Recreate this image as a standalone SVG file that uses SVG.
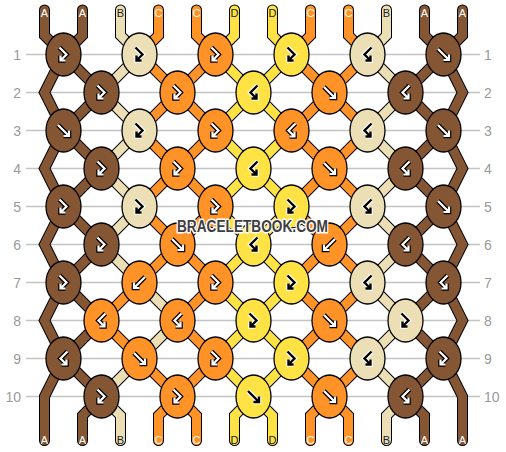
<svg xmlns="http://www.w3.org/2000/svg" xmlns:xlink="http://www.w3.org/1999/xlink" width="506" height="452" viewBox="0 0 506 452">
<style>
.grid line{stroke:#c4c4c4;stroke-width:1.3}
.num{font-family:"Liberation Sans",Arial,sans-serif;font-size:14px;fill:#9a9a9a}
.ol{fill:none;stroke:#000;stroke-width:11;stroke-linecap:round;stroke-linejoin:miter}
.sA{fill:none;stroke:#855634;stroke-width:9;stroke-linecap:round;stroke-linejoin:miter}
.sB{fill:none;stroke:#ecdfb6;stroke-width:9;stroke-linecap:round;stroke-linejoin:miter}
.sC{fill:none;stroke:#ff9327;stroke-width:9;stroke-linecap:round;stroke-linejoin:miter}
.sD{fill:none;stroke:#ffe344;stroke-width:9;stroke-linecap:round;stroke-linejoin:miter}
ellipse{stroke:#000;stroke-width:1.3}
.A{fill:#855634}.B{fill:#ecdfb6}.C{fill:#ff9327}.D{fill:#ffe344}
.lab{font-family:"Liberation Sans",Arial,sans-serif;font-size:11px;text-anchor:middle}
.lw{fill:#fff}.lk{fill:#222}
.wm{font-family:"Liberation Sans",Arial,sans-serif;font-weight:bold;font-size:16px;fill:#3e3e3e;stroke:#fff;stroke-width:3;paint-order:stroke;stroke-linejoin:round;text-anchor:middle}
</style>
<defs>
<path id="pF" d="M-5.5,-5.5 L5.5,5.5 M0,5.5 L5.5,5.5 L5.5,0"/>
<path id="pB" d="M5.5,-5.5 L-5.5,5.5 M0,5.5 L-5.5,5.5 L-5.5,0"/>
<path id="pFB" d="M-4,-7 L3,0 L-3,6 M-3,1 L-3,6 L2,6"/>
<path id="pBF" d="M4,-7 L-3,0 L3,6 M3,1 L3,6 L-2,6"/>
<g id="Fw"><use xlink:href="#pF" fill="none" stroke="#000" stroke-width="4.6"/><use xlink:href="#pF" fill="none" stroke="#fff" stroke-width="2.2"/></g>
<g id="Bw"><use xlink:href="#pB" fill="none" stroke="#000" stroke-width="4.6"/><use xlink:href="#pB" fill="none" stroke="#fff" stroke-width="2.2"/></g>
<g id="FBw"><use xlink:href="#pFB" fill="none" stroke="#000" stroke-width="4.6"/><use xlink:href="#pFB" fill="none" stroke="#fff" stroke-width="2.2"/></g>
<g id="BFw"><use xlink:href="#pBF" fill="none" stroke="#000" stroke-width="4.6"/><use xlink:href="#pBF" fill="none" stroke="#fff" stroke-width="2.2"/></g>
<g id="Fk"><use xlink:href="#pF" fill="none" stroke="#fff" stroke-width="4.6"/><use xlink:href="#pF" fill="none" stroke="#000" stroke-width="2.4"/></g>
<g id="FBk"><use xlink:href="#pFB" fill="none" stroke="#fff" stroke-width="4.6"/><use xlink:href="#pFB" fill="none" stroke="#000" stroke-width="2.4"/></g>
<g id="BFk"><use xlink:href="#pBF" fill="none" stroke="#fff" stroke-width="4.6"/><use xlink:href="#pBF" fill="none" stroke="#000" stroke-width="2.4"/></g>
<path id="strA" d="M44.5,10 V35.5 L63.5,54.5 L44.5,92.5 L63.5,130.5 L44.5,168.5 L63.5,206.5 L44.5,244.5 L63.5,282.5 L44.5,320.5 L63.5,358.5 L44.5,396.5 V440.5
 M82.5,10 V35.5 L63.5,54.5 L101.5,92.5 L63.5,130.5 L101.5,168.5 L63.5,206.5 L101.5,244.5 L63.5,282.5 L101.5,320.5 L63.5,358.5 L101.5,396.5 L82.5,415.5 V440.5
 M424.5,10 V35.5 L443.5,54.5 L405.5,92.5 L443.5,130.5 L405.5,168.5 L443.5,206.5 L405.5,244.5 L443.5,282.5 L405.5,320.5 L443.5,358.5 L405.5,396.5 L424.5,415.5 V440.5
 M462.5,10 V35.5 L443.5,54.5 L462.5,92.5 L443.5,130.5 L462.5,168.5 L443.5,206.5 L462.5,244.5 L443.5,282.5 L462.5,320.5 L443.5,358.5 L462.5,396.5 V440.5"/>
<path id="strB" d="M120.5,10 V35.5 L139.5,54.5 L101.5,92.5 L139.5,130.5 L101.5,168.5 L139.5,206.5 L101.5,244.5 L139.5,282.5
 M139.5,358.5 L101.5,396.5 L120.5,415.5 V440.5
 M139.5,282.5 L177.5,320.5 L139.5,358.5
 M386.5,10 V35.5 L367.5,54.5 L405.5,92.5 L367.5,130.5 L405.5,168.5 L367.5,206.5 L405.5,244.5 L367.5,282.5 L405.5,320.5 L367.5,358.5 L405.5,396.5 L386.5,415.5 V440.5"/>
<path id="strC" d="M158.5,10 V35.5 L139.5,54.5 L177.5,92.5 L139.5,130.5 L177.5,168.5 L139.5,206.5 L177.5,244.5 L139.5,282.5
 M139.5,358.5 L177.5,396.5 L158.5,415.5 V440.5
 M139.5,282.5 L101.5,320.5 L139.5,358.5
 M196.5,10 V35.5 L215.5,54.5 L177.5,92.5 L215.5,130.5 L177.5,168.5 L215.5,206.5 L177.5,244.5 L215.5,282.5 L177.5,320.5 L215.5,358.5 L177.5,396.5 L196.5,415.5 V440.5
 M310.5,10 V35.5 L291.5,54.5 L329.5,92.5 L291.5,130.5 L329.5,168.5 L291.5,206.5 L329.5,244.5 L291.5,282.5 L329.5,320.5 L291.5,358.5 L329.5,396.5 L310.5,415.5 V440.5
 M348.5,10 V35.5 L367.5,54.5 L329.5,92.5 L367.5,130.5 L329.5,168.5 L367.5,206.5 L329.5,244.5 L367.5,282.5 L329.5,320.5 L367.5,358.5 L329.5,396.5 L348.5,415.5 V440.5"/>
<path id="strD" d="M234.5,10 V35.5 L215.5,54.5 L253.5,92.5 L215.5,130.5 L253.5,168.5 L215.5,206.5 L253.5,244.5 L215.5,282.5 L253.5,320.5 L215.5,358.5 L253.5,396.5 L234.5,415.5 V440.5
 M272.5,10 V35.5 L291.5,54.5 L253.5,92.5 L291.5,130.5 L253.5,168.5 L291.5,206.5 L253.5,244.5 L291.5,282.5 L253.5,320.5 L291.5,358.5 L253.5,396.5 L272.5,415.5 V440.5"/>
</defs>
<rect width="506" height="452" fill="#fff"/>
<g class="grid">
<line x1="26" y1="54.5" x2="480" y2="54.5"/><line x1="26" y1="92.5" x2="480" y2="92.5"/><line x1="26" y1="130.5" x2="480" y2="130.5"/><line x1="26" y1="168.5" x2="480" y2="168.5"/><line x1="26" y1="206.5" x2="480" y2="206.5"/><line x1="26" y1="244.5" x2="480" y2="244.5"/><line x1="26" y1="282.5" x2="480" y2="282.5"/><line x1="26" y1="320.5" x2="480" y2="320.5"/><line x1="26" y1="358.5" x2="480" y2="358.5"/><line x1="26" y1="396.5" x2="480" y2="396.5"/>
</g>
<g class="num" text-anchor="end">
<text x="21" y="59.5">1</text><text x="21" y="97.5">2</text><text x="21" y="135.5">3</text><text x="21" y="173.5">4</text><text x="21" y="211.5">5</text><text x="21" y="249.5">6</text><text x="21" y="287.5">7</text><text x="21" y="325.5">8</text><text x="21" y="363.5">9</text><text x="21" y="401.5">10</text>
</g>
<g class="num" text-anchor="start">
<text x="484" y="59.5">1</text><text x="484" y="97.5">2</text><text x="484" y="135.5">3</text><text x="484" y="173.5">4</text><text x="484" y="211.5">5</text><text x="484" y="249.5">6</text><text x="484" y="287.5">7</text><text x="484" y="325.5">8</text><text x="484" y="363.5">9</text><text x="484" y="401.5">10</text>
</g>
<g id="connectors">
<use xlink:href="#strA" class="ol"/><use xlink:href="#strB" class="ol"/><use xlink:href="#strC" class="ol"/><use xlink:href="#strD" class="ol"/>
<use xlink:href="#strA" class="sA"/><use xlink:href="#strB" class="sB"/><use xlink:href="#strC" class="sC"/><use xlink:href="#strD" class="sD"/>
</g>
<g id="labels-top">
<text class="lab lw" x="44.5" y="16.5">A</text><text class="lab lw" x="82.5" y="16.5">A</text><text class="lab lk" x="120.5" y="16.5">B</text><text class="lab lw" x="158.5" y="16.5">C</text><text class="lab lw" x="196.5" y="16.5">C</text><text class="lab lk" x="234.5" y="16.5">D</text><text class="lab lk" x="272.5" y="16.5">D</text><text class="lab lw" x="310.5" y="16.5">C</text><text class="lab lw" x="348.5" y="16.5">C</text><text class="lab lk" x="386.5" y="16.5">B</text><text class="lab lw" x="424.5" y="16.5">A</text><text class="lab lw" x="462.5" y="16.5">A</text>
</g>
<g id="labels-bottom">
<text class="lab lw" x="44.5" y="444">A</text><text class="lab lw" x="82.5" y="444">A</text><text class="lab lk" x="120.5" y="444">B</text><text class="lab lw" x="158.5" y="444">C</text><text class="lab lw" x="196.5" y="444">C</text><text class="lab lk" x="234.5" y="444">D</text><text class="lab lk" x="272.5" y="444">D</text><text class="lab lw" x="310.5" y="444">C</text><text class="lab lw" x="348.5" y="444">C</text><text class="lab lk" x="386.5" y="444">B</text><text class="lab lw" x="424.5" y="444">A</text><text class="lab lw" x="462.5" y="444">A</text>
</g>
<g id="knots">
<g id="k1-1" transform="translate(63.5,54.5)"><ellipse class="A" rx="17.5" ry="21.5"/><use xlink:href="#FBw"/></g>
<g id="k1-2" transform="translate(139.5,54.5)"><ellipse class="B" rx="17.5" ry="21.5"/><use xlink:href="#FBk"/></g>
<g id="k1-3" transform="translate(215.5,54.5)"><ellipse class="C" rx="17.5" ry="21.5"/><use xlink:href="#FBw"/></g>
<g id="k1-4" transform="translate(291.5,54.5)"><ellipse class="D" rx="17.5" ry="21.5"/><use xlink:href="#FBk"/></g>
<g id="k1-5" transform="translate(367.5,54.5)"><ellipse class="B" rx="17.5" ry="21.5"/><use xlink:href="#BFk"/></g>
<g id="k1-6" transform="translate(443.5,54.5)"><ellipse class="A" rx="17.5" ry="21.5"/><use xlink:href="#Fw"/></g>

<g id="k2-1" transform="translate(101.5,92.5)"><ellipse class="A" rx="17.5" ry="21.5"/><use xlink:href="#FBw"/></g>
<g id="k2-2" transform="translate(177.5,92.5)"><ellipse class="C" rx="17.5" ry="21.5"/><use xlink:href="#FBw"/></g>
<g id="k2-3" transform="translate(253.5,92.5)"><ellipse class="D" rx="17.5" ry="21.5"/><use xlink:href="#BFk"/></g>
<g id="k2-4" transform="translate(329.5,92.5)"><ellipse class="C" rx="17.5" ry="21.5"/><use xlink:href="#Fw"/></g>
<g id="k2-5" transform="translate(405.5,92.5)"><ellipse class="A" rx="17.5" ry="21.5"/><use xlink:href="#BFw"/></g>

<g id="k3-1" transform="translate(63.5,130.5)"><ellipse class="A" rx="17.5" ry="21.5"/><use xlink:href="#Fw"/></g>
<g id="k3-2" transform="translate(139.5,130.5)"><ellipse class="B" rx="17.5" ry="21.5"/><use xlink:href="#FBk"/></g>
<g id="k3-3" transform="translate(215.5,130.5)"><ellipse class="C" rx="17.5" ry="21.5"/><use xlink:href="#FBw"/></g>
<g id="k3-4" transform="translate(291.5,130.5)"><ellipse class="C" rx="17.5" ry="21.5"/><use xlink:href="#BFw"/></g>
<g id="k3-5" transform="translate(367.5,130.5)"><ellipse class="B" rx="17.5" ry="21.5"/><use xlink:href="#BFk"/></g>
<g id="k3-6" transform="translate(443.5,130.5)"><ellipse class="A" rx="17.5" ry="21.5"/><use xlink:href="#Fw"/></g>

<g id="k4-1" transform="translate(101.5,168.5)"><ellipse class="A" rx="17.5" ry="21.5"/><use xlink:href="#FBw"/></g>
<g id="k4-2" transform="translate(177.5,168.5)"><ellipse class="C" rx="17.5" ry="21.5"/><use xlink:href="#FBw"/></g>
<g id="k4-3" transform="translate(253.5,168.5)"><ellipse class="D" rx="17.5" ry="21.5"/><use xlink:href="#BFk"/></g>
<g id="k4-4" transform="translate(329.5,168.5)"><ellipse class="C" rx="17.5" ry="21.5"/><use xlink:href="#Fw"/></g>
<g id="k4-5" transform="translate(405.5,168.5)"><ellipse class="A" rx="17.5" ry="21.5"/><use xlink:href="#BFw"/></g>

<g id="k5-1" transform="translate(63.5,206.5)"><ellipse class="A" rx="17.5" ry="21.5"/><use xlink:href="#FBw"/></g>
<g id="k5-2" transform="translate(139.5,206.5)"><ellipse class="B" rx="17.5" ry="21.5"/><use xlink:href="#FBk"/></g>
<g id="k5-3" transform="translate(215.5,206.5)"><ellipse class="C" rx="17.5" ry="21.5"/><use xlink:href="#FBw"/></g>
<g id="k5-4" transform="translate(291.5,206.5)"><ellipse class="D" rx="17.5" ry="21.5"/><use xlink:href="#FBk"/></g>
<g id="k5-5" transform="translate(367.5,206.5)"><ellipse class="B" rx="17.5" ry="21.5"/><use xlink:href="#BFk"/></g>
<g id="k5-6" transform="translate(443.5,206.5)"><ellipse class="A" rx="17.5" ry="21.5"/><use xlink:href="#Fw"/></g>

<g id="k6-1" transform="translate(101.5,244.5)"><ellipse class="A" rx="17.5" ry="21.5"/><use xlink:href="#FBw"/></g>
<g id="k6-2" transform="translate(177.5,244.5)"><ellipse class="C" rx="17.5" ry="21.5"/><use xlink:href="#Fw"/></g>
<g id="k6-3" transform="translate(253.5,244.5)"><ellipse class="D" rx="17.5" ry="21.5"/><use xlink:href="#BFk"/></g>
<g id="k6-4" transform="translate(329.5,244.5)"><ellipse class="C" rx="17.5" ry="21.5"/><use xlink:href="#Bw"/></g>
<g id="k6-5" transform="translate(405.5,244.5)"><ellipse class="A" rx="17.5" ry="21.5"/><use xlink:href="#BFw"/></g>

<g id="k7-1" transform="translate(63.5,282.5)"><ellipse class="A" rx="17.5" ry="21.5"/><use xlink:href="#FBw"/></g>
<g id="k7-2" transform="translate(139.5,282.5)"><ellipse class="C" rx="17.5" ry="21.5"/><use xlink:href="#Bw"/></g>
<g id="k7-3" transform="translate(215.5,282.5)"><ellipse class="C" rx="17.5" ry="21.5"/><use xlink:href="#FBw"/></g>
<g id="k7-4" transform="translate(291.5,282.5)"><ellipse class="D" rx="17.5" ry="21.5"/><use xlink:href="#FBk"/></g>
<g id="k7-5" transform="translate(367.5,282.5)"><ellipse class="B" rx="17.5" ry="21.5"/><use xlink:href="#BFk"/></g>
<g id="k7-6" transform="translate(443.5,282.5)"><ellipse class="A" rx="17.5" ry="21.5"/><use xlink:href="#BFw"/></g>

<g id="k8-1" transform="translate(101.5,320.5)"><ellipse class="C" rx="17.5" ry="21.5"/><use xlink:href="#BFw"/></g>
<g id="k8-2" transform="translate(177.5,320.5)"><ellipse class="C" rx="17.5" ry="21.5"/><use xlink:href="#BFw"/></g>
<g id="k8-3" transform="translate(253.5,320.5)"><ellipse class="D" rx="17.5" ry="21.5"/><use xlink:href="#FBk"/></g>
<g id="k8-4" transform="translate(329.5,320.5)"><ellipse class="C" rx="17.5" ry="21.5"/><use xlink:href="#Fw"/></g>
<g id="k8-5" transform="translate(405.5,320.5)"><ellipse class="B" rx="17.5" ry="21.5"/><use xlink:href="#FBk"/></g>

<g id="k9-1" transform="translate(63.5,358.5)"><ellipse class="A" rx="17.5" ry="21.5"/><use xlink:href="#BFw"/></g>
<g id="k9-2" transform="translate(139.5,358.5)"><ellipse class="C" rx="17.5" ry="21.5"/><use xlink:href="#Fw"/></g>
<g id="k9-3" transform="translate(215.5,358.5)"><ellipse class="C" rx="17.5" ry="21.5"/><use xlink:href="#FBw"/></g>
<g id="k9-4" transform="translate(291.5,358.5)"><ellipse class="D" rx="17.5" ry="21.5"/><use xlink:href="#FBk"/></g>
<g id="k9-5" transform="translate(367.5,358.5)"><ellipse class="B" rx="17.5" ry="21.5"/><use xlink:href="#BFk"/></g>
<g id="k9-6" transform="translate(443.5,358.5)"><ellipse class="A" rx="17.5" ry="21.5"/><use xlink:href="#FBw"/></g>

<g id="k10-1" transform="translate(101.5,396.5)"><ellipse class="A" rx="17.5" ry="21.5"/><use xlink:href="#FBw"/></g>
<g id="k10-2" transform="translate(177.5,396.5)"><ellipse class="C" rx="17.5" ry="21.5"/><use xlink:href="#FBw"/></g>
<g id="k10-3" transform="translate(253.5,396.5)"><ellipse class="D" rx="17.5" ry="21.5"/><use xlink:href="#Fk"/></g>
<g id="k10-4" transform="translate(329.5,396.5)"><ellipse class="C" rx="17.5" ry="21.5"/><use xlink:href="#Fw"/></g>
<g id="k10-5" transform="translate(405.5,396.5)"><ellipse class="A" rx="17.5" ry="21.5"/><use xlink:href="#BFw"/></g>
</g>
<text class="wm" x="252.5" y="231.5" textLength="151" lengthAdjust="spacingAndGlyphs">BRACELETBOOK.COM</text>
</svg>
